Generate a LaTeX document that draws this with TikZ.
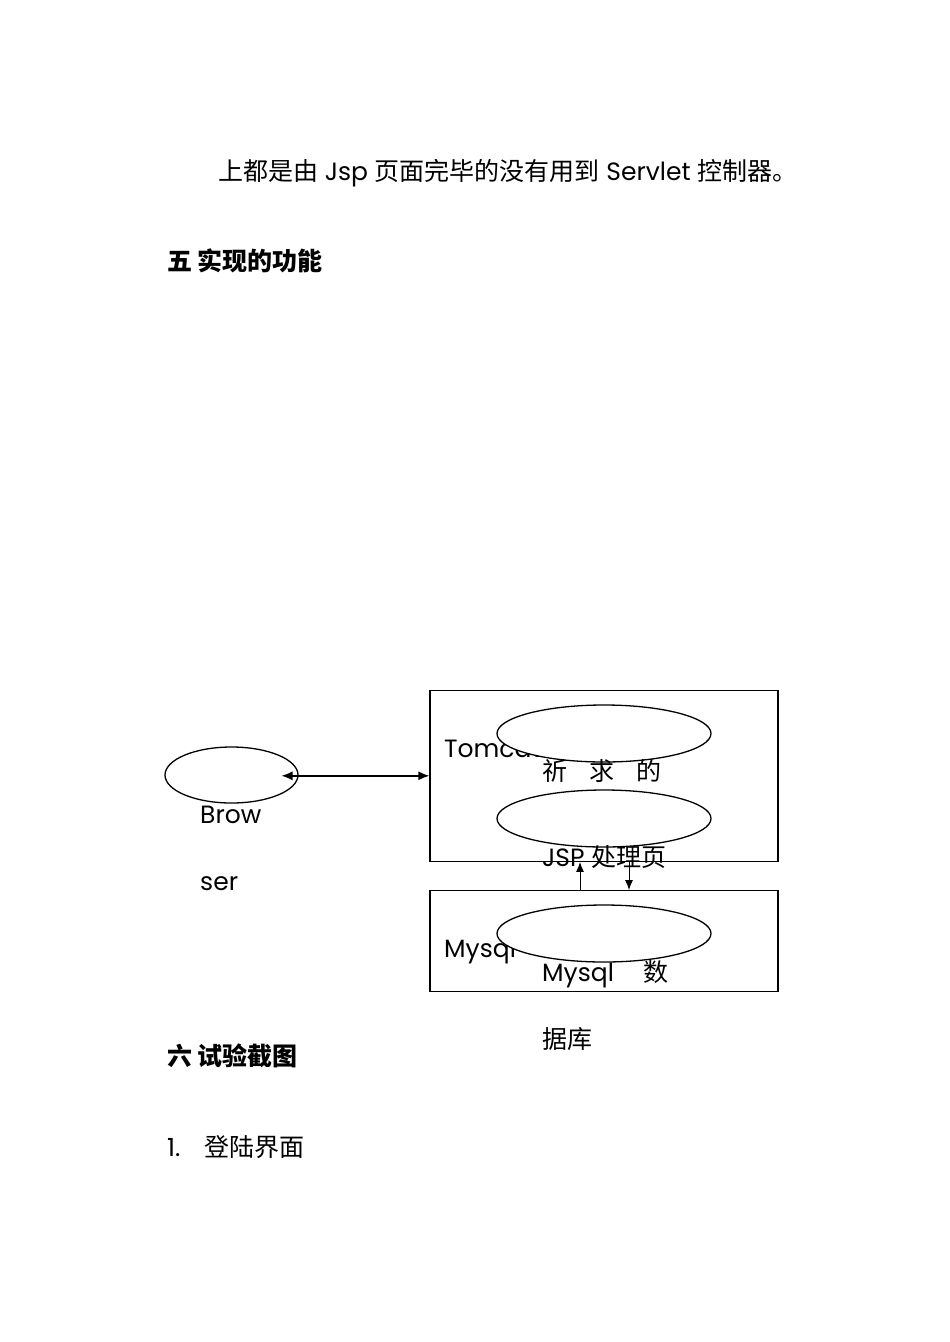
\documentclass[tikz,border=0pt]{standalone}
\usepackage{fontspec}
\setmainfont{Poppins}
\newfontfamily\cjk{Noto Sans CJK SC}
\usetikzlibrary{positioning,arrows.meta,shapes.geometric}

\begin{document}
\begin{tikzpicture}[
    x=1pt,y=-1pt,
    txt/.style={
        anchor=base west,
        inner sep=0pt,
        font=\fontsize{25}{30}\selectfont
    },
    head/.style={
        anchor=base west,
        inner sep=0pt,
        font=\fontsize{25}{30}\selectfont\cjk\bfseries
    },
    frame/.style={
        draw,
        line width=1.3pt,
        minimum width=348pt,
        inner sep=0pt
    },
    oval/.style={
        draw,
        ellipse,
        fill=white,
        line width=1.3pt,
        minimum width=214pt,
        minimum height=57pt,
        inner sep=0pt
    },
    arr/.style={-{Latex[length=10pt,width=8pt]},line width=1pt},
    dbl/.style={{Latex[length=11pt,width=9pt]}-{Latex[length=11pt,width=9pt]},line width=1.5pt}
]

\useasboundingbox (0,0) rectangle (950,1342);

% ---------------------------------------------------------
% Testo della pagina
% ---------------------------------------------------------

\node[txt] (line1) at (218,180)
{{\cjk 上都是由} Jsp {\cjk 页面完毕的没有用到} Servlet {\cjk 控制器。}};

\node[head] (sec5) at (167,270) {五 实现的功能};

\node[head] (sec6) at (167,1065) {六 试验截图};

\node[txt] (item1) at (167,1156) {1.\hspace{24pt}{\cjk 登陆界面}};

% ---------------------------------------------------------
% Riquadri Tomcat / Mysql
% ---------------------------------------------------------

\node[frame,minimum height=171pt] (tomcat) at (604,775.8) {};

\node[frame,minimum height=101pt] (mysql) at (604,941.2) {};

\node[txt] (tomcatlab) at (444,757) {Tomcat};

\node[txt] (mysqllab) at (444,957) {Mysql};

% ---------------------------------------------------------
% Ellissi
% ---------------------------------------------------------

\node[oval,minimum width=133pt,minimum height=56pt] (brow) at (231.5,775) {};

\node[oval] (req) at (604,733.5) {};

\node[oval] (jsp) at (604,818.5) {};

\node[oval] (db) at (604,933.5) {};

\node[txt] (browlab) at (200,823) {Brow};

\node[txt] (serlab) at (200,890) {ser};

\node[txt] (reqlab) at (542,780)
{\cjk 祈\hspace{22pt}求\hspace{22pt}的};

\node[txt] (jsplab) at (542,866) {JSP {\cjk 处理页}};

\node[txt] (dblab) at (542,981) {Mysql\hspace{30pt}{\cjk 数}};

\node[txt] (dblab2) at (542,1048) {\cjk 据库};

% ---------------------------------------------------------
% Frecce
% ---------------------------------------------------------

\coordinate (browtip) at (281.5,775.8);
\coordinate (upx) at (580,0);
\coordinate (downx) at (629,0);

\draw[dbl] (browtip) -- (tomcat.west);

\draw[arr] (mysql.north -| upx) -- (tomcat.south -| upx);

\draw[arr] (tomcat.south -| downx) -- (mysql.north -| downx);

\end{tikzpicture}
\end{document}
